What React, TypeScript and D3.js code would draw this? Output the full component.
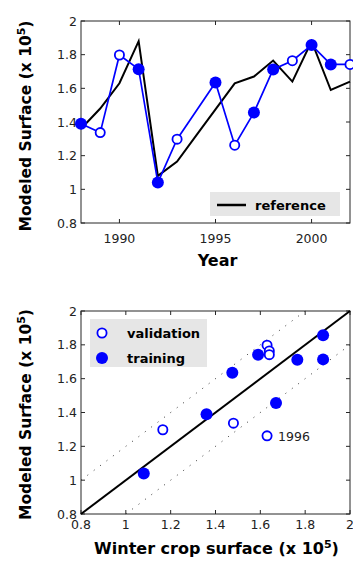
import * as d3 from "d3";

const years = [1988, 1989, 1990, 1991, 1992, 1993, 1994, 1995, 1996, 1997, 1998, 1999, 2000, 2001, 2002];
const referenceSurface = [1.36, 1.48, 1.63, 1.88, 1.08, 1.165, 1.32, 1.475, 1.63, 1.67, 1.765, 1.64, 1.88, 1.59, 1.64];
const modeledSurface = [1.39, 1.337, 1.798, 1.714, 1.04, 1.298, null, 1.635, 1.262, 1.456, 1.712, 1.764, 1.857, 1.742, 1.742];
const training = [true, false, false, true, true, false, null, true, false, true, true, false, true, true, false];

const yearTicks = [1990, 1995, 2000];
const surfaceTicks = [0.8, 1, 1.2, 1.4, 1.6, 1.8, 2];
const labelledYear = 1996;

const W = 353;
const H = 563;
const BLUE = "#0000ff";
const AXIS = "#262626";
const FONT = "'DejaVu Sans', Verdana, sans-serif";

const left = 81;
const right = 350;
const top1 = { t: 21, b: 223 };
const top2 = { t: 311, b: 514 };

type Pt = { year: number; ref: number; mod: number; train: boolean };

const points: Pt[] = years
	.map((year, i) => ({ year, ref: referenceSurface[i], mod: modeledSurface[i] as number, train: training[i] as boolean }))
	.filter((d) => d.mod != null);

function Marker({ x, y, filled }: { x: number; y: number; filled: boolean }) {
	return filled ? (
		<circle cx={x} cy={y} r={6} fill={BLUE} />
	) : (
		<circle cx={x} cy={y} r={4.6} fill="white" stroke={BLUE} strokeWidth={1.8} />
	);
}

function Frame({
	x,
	y,
	xTicks,
	yTicks,
	xFmt,
	xLabelDy,
}: {
	x: d3.ScaleLinear<number, number>;
	y: d3.ScaleLinear<number, number>;
	xTicks: number[];
	yTicks: number[];
	xFmt: (v: number) => string;
	xLabelDy: number;
}) {
	const [x0, x1] = x.range();
	const [y0, y1] = y.range();
	const tl = 4;
	return (
		<g>
			<rect x={x0} y={y1} width={x1 - x0} height={y0 - y1} fill="none" stroke={AXIS} strokeWidth={1} />
			{xTicks.map((t) => (
				<g key={"x" + t}>
					<line x1={x(t)} x2={x(t)} y1={y0} y2={y0 - tl} stroke={AXIS} />
					<line x1={x(t)} x2={x(t)} y1={y1} y2={y1 + tl} stroke={AXIS} />
					<text x={x(t)} y={y0 + xLabelDy} textAnchor="middle" fontSize={12.5} fill="#222">
						{xFmt(t)}
					</text>
				</g>
			))}
			{yTicks.map((t) => (
				<g key={"y" + t}>
					<line x1={x0} x2={x0 + tl} y1={y(t)} y2={y(t)} stroke={AXIS} />
					<line x1={x1} x2={x1 - tl} y1={y(t)} y2={y(t)} stroke={AXIS} />
					<text x={x0 - 4} y={y(t) + 4.5} textAnchor="end" fontSize={12.5} fill="#222">
						{d3.format("~g")(t)}
					</text>
				</g>
			))}
		</g>
	);
}

function YLabel({ cx, cy }: { cx: number; cy: number }) {
	return (
		<text transform={`translate(${cx},${cy}) rotate(-90)`} textAnchor="middle" fontSize={15.5} fontWeight="bold">
			Modeled Surface (x 10<tspan dy={-6} fontSize={11}>5</tspan>
			<tspan dy={6}>)</tspan>
		</text>
	);
}

export default function App() {
	// time series
	const xt = d3.scaleLinear().domain([1988, 2002]).range([left, right]);
	const yt = d3.scaleLinear().domain([0.8, 2]).range([top1.b, top1.t]);
	const refLine = d3
		.line<number>()
		.x((_, i) => xt(years[i]))
		.y((d) => yt(d));
	const modLine = d3
		.line<Pt>()
		.x((d) => xt(d.year))
		.y((d) => yt(d.mod));

	// scatter
	const xs = d3.scaleLinear().domain([0.8, 2]).range([left, right]);
	const ys = d3.scaleLinear().domain([0.8, 2]).range([top2.b, top2.t]);
	const diag = (off: number) => {
		const lo = Math.max(0.8, 0.8 - off);
		const hi = Math.min(2, 2 - off);
		return { x1: xs(lo), y1: ys(lo + off), x2: xs(hi), y2: ys(hi + off) };
	};
	const p1996 = points.find((d) => d.year === labelledYear)!;

	return (
		<svg width={W} height={H} style={{ position: "absolute", left: 0, top: 0, fontFamily: FONT }}>
			<rect width={W} height={H} fill="white" />

			{/* top: time series */}
			<Frame x={xt} y={yt} xTicks={yearTicks} yTicks={surfaceTicks} xFmt={(v) => String(v)} xLabelDy={20} />
			<path d={refLine(referenceSurface) ?? ""} fill="none" stroke="black" strokeWidth={2} strokeLinejoin="miter" />
			<path d={modLine(points) ?? ""} fill="none" stroke={BLUE} strokeWidth={1.7} />
			{points.map((d) => (
				<Marker key={"t" + d.year} x={xt(d.year)} y={yt(d.mod)} filled={d.train} />
			))}
			<rect x={210} y={192} width={130} height={24} fill="#e6e6e6" />
			<line x1={217} x2={246} y1={205} y2={205} stroke="black" strokeWidth={2.5} />
			<text x={255} y={209.5} fontSize={13} fontWeight="bold">
				reference
			</text>
			<text x={(left + right) / 2 + 2} y={266} textAnchor="middle" fontSize={16} fontWeight="bold">
				Year
			</text>
			<YLabel cx={31} cy={(top1.t + top1.b) / 2 + 4} />

			{/* bottom: scatter */}
			<Frame
				x={xs}
				y={ys}
				xTicks={surfaceTicks}
				yTicks={surfaceTicks}
				xFmt={(v) => d3.format("~g")(v)}
				xLabelDy={15}
			/>
			<line {...diag(0.2)} stroke="#333" strokeWidth={1} strokeDasharray="1 7" />
			<line {...diag(-0.2)} stroke="#333" strokeWidth={1} strokeDasharray="1 7" />
			<line {...diag(0)} stroke="black" strokeWidth={2} />
			{points.map((d) => (
				<Marker key={"s" + d.year} x={xs(d.ref)} y={ys(d.mod)} filled={d.train} />
			))}
			<text x={xs(p1996.ref) + 11} y={ys(p1996.mod) + 5} fontSize={12.5} fill="#222">
				{labelledYear}
			</text>
			<rect x={90} y={319} width={117} height={48} fill="#e6e6e6" />
			<Marker x={102} y={333} filled={false} />
			<Marker x={102} y={358} filled={true} />
			<text x={127} y={337.5} fontSize={13} fontWeight="bold">
				validation
			</text>
			<text x={127} y={362.5} fontSize={13} fontWeight="bold">
				training
			</text>
			<text x={(left + right) / 2 + 1} y={554} textAnchor="middle" fontSize={16} fontWeight="bold">
				Winter crop surface (x 10<tspan dy={-6} fontSize={11}>5</tspan>
				<tspan dy={6}>)</tspan>
			</text>
			<YLabel cx={31} cy={(top2.t + top2.b) / 2 + 2} />
		</svg>
	);
}
